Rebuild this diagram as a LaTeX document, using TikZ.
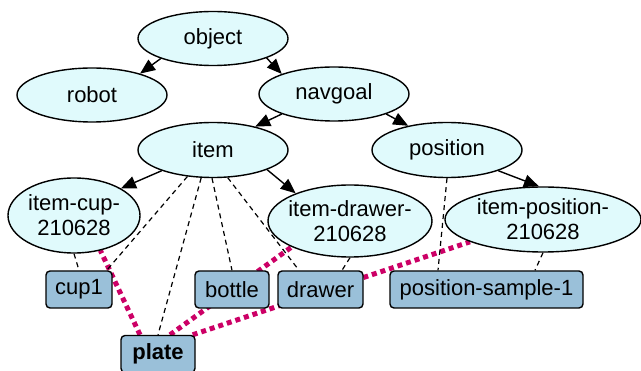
\documentclass[tikz,border=0pt]{standalone}
\usepackage{fontspec}
\setmainfont{Liberation Sans}
\usetikzlibrary{shapes.geometric,arrows.meta,backgrounds}
\definecolor{nodefill}{RGB}{224,250,252}
\definecolor{boxfill}{RGB}{154,192,217}
\definecolor{linkpink}{RGB}{204,0,102}
\begin{document}
\begin{tikzpicture}[x=1pt,y=-1pt,
  every node/.style={font=\fontsize{22}{25}\selectfont},
  cls/.style={ellipse, draw, line width=1.4pt, fill=nodefill, inner sep=0pt, align=center},
  inst/.style={rectangle, rounded corners=4pt, draw, line width=1.4pt, fill=boxfill,
               minimum height=37pt, inner xsep=0pt, inner ysep=0pt},
  isa/.style={line width=1.4pt, -{Triangle[length=15pt,width=12.5pt]}},
  member/.style={line width=1.2pt, dash pattern=on 5pt off 4pt},
  link/.style={line width=5pt, draw=linkpink, dash pattern=on 5pt off 4pt}]
\useasboundingbox (0,0) rectangle (641,371);

% class hierarchy
\node[cls, minimum width=150pt, minimum height=54pt] (object)   at (213,38.5) {object};
\node[cls, minimum width=150pt, minimum height=54pt] (robot)    at (92,95)    {robot};
\node[cls, minimum width=150pt, minimum height=54pt] (navgoal)  at (334,94)   {navgoal};
\node[cls, minimum width=150pt, minimum height=55pt] (item)     at (213,150)  {item};
\node[cls, minimum width=150pt, minimum height=55pt] (position) at (447,150)  {position};
\node[cls, minimum width=132pt, minimum height=75pt] (itemcup)  at (74,215.5) {item-cup-\\210628};
\node[cls, minimum width=164pt, minimum height=72pt, inner xsep=-5pt] (itemdrawer) at (350,221) {item-drawer-\\210628};
\node[cls, minimum width=196pt, minimum height=65pt] (itempos)  at (543,219.5) {item-position-\\210628};

% instances
\node[inst, minimum width=66pt]  (cup1)      at (79,289.5)    {cup1};
\node[inst, minimum width=74pt]  (bottle)    at (232,289.5)   {bottle};
\node[inst, minimum width=85pt]  (drawer)    at (320.5,289.5) {drawer};
\node[inst, minimum width=193pt] (possample) at (486.5,289.5) {position-sample-1};
\node[inst, minimum width=74pt]  (plate)     at (158,354)     {\bfseries plate};

\begin{pgfonlayer}{background}
  % relations of the plate
  \draw[link] ([xshift=-18pt]plate.north) -- (itemcup.307);
  \draw[link] ([xshift=12pt]plate.north) -- (itemdrawer.204);
  \draw[link] ([xshift=-3pt]plate.north east) -- (itempos.197);

  % subclass arrows
  \draw[isa] (object.201) -- (robot.24);
  \draw[isa] (object.340) -- (navgoal.159);
  \draw[isa] (navgoal.201) -- (item.29);
  \draw[isa] (navgoal.339) -- (position.148);
  \draw[isa] (item.202) -- (itemcup.30);
  \draw[isa] (item.340) -- (itemdrawer.153);
  \draw[isa] (position.338) -- (itempos.97);

  % membership
  \draw[member] (itemcup.south) -- (cup1.north);
  \draw[member] (item.226) -- ([xshift=-6pt]cup1.north east);
  \draw[member] (item.247) -- (plate.north);
  \draw[member] (item.268) -- (bottle.north);
  \draw[member] (item.298) -- ([xshift=-21.5pt]drawer.north);
  \draw[member] (itemdrawer.south) -- ([xshift=21.5pt]drawer.north);
  \draw[member] (position.south) -- ([xshift=-48.5pt]possample.north);
  \draw[member] (itempos.south) -- ([xshift=48.5pt]possample.north);
\end{pgfonlayer}
\end{tikzpicture}
\end{document}
